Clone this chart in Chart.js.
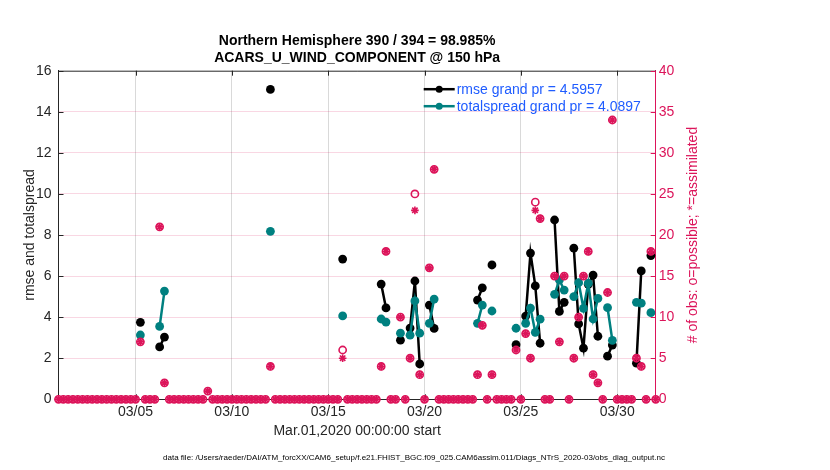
<!DOCTYPE html>
<html>
<head>
<meta charset="utf-8">
<script src="https://cdn.jsdelivr.net/npm/chart.js@4.4.1/dist/chart.umd.min.js"></script>
<style>
  html, body { margin: 0; padding: 0; background: #fff; }
  #wrap { width: 830px; height: 470px; position: relative; }
</style>
</head>
<body>
<div id="wrap"><canvas id="obsChart"></canvas></div>
<script>
const N = null;

// 6-hourly bins, Mar 1 00Z .. Apr 1 00Z
const binCount = 125;
const binLabels = Array.from({length: binCount}, (_, i) => {
    const d = new Date(Date.UTC(2020, 2, 1) + i * 6 * 3600 * 1000);
    const mm = String(d.getUTCMonth() + 1).padStart(2, '0');
    const dd = String(d.getUTCDate()).padStart(2, '0');
    const hh = String(d.getUTCHours()).padStart(2, '0');
    return mm + '/' + dd + ' ' + hh;
});
const tickLabels = ['03/05', '03/10', '03/15', '03/20', '03/25', '03/30'];

const rmse = [
    N, N, N, N, N, N, N, N, N, N,
    N, N, N, N, N, N, N, 3.75, N, N,
    N, 2.55, 3.03, N, N, N, N, N, N, N,
    N, N, N, N, N, N, N, N, N, N,
    N, N, N, N, 15.09, N, N, N, N, N,
    N, N, N, N, N, N, N, N, N, 6.83,
    N, N, N, N, N, N, N, 5.61, 4.45, N,
    N, 2.88, N, 3.47, 5.76, 1.72, N, 4.59, 3.45, N,
    N, N, N, N, N, N, N, 4.83, 5.43, N,
    6.54, N, N, N, N, 2.66, N, 4.05, 7.12, 5.52,
    2.73, N, N, 8.73, 4.28, 4.72, N, 7.36, 3.67, 2.49,
    5.6, 6.05, 3.07, N, 2.1, 2.64, N, N, N, N,
    1.76, 6.25, N, 7.0, N
];
const totalspread = [
    N, N, N, N, N, N, N, N, N, N,
    N, N, N, N, N, N, N, 3.13, N, N,
    N, 3.55, 5.27, N, N, N, N, N, N, N,
    N, N, N, N, N, N, N, N, N, N,
    N, N, N, N, 8.18, N, N, N, N, N,
    N, N, N, N, N, N, N, N, N, 4.06,
    N, N, N, N, N, N, N, 3.91, 3.76, N,
    N, 3.22, N, 3.12, 4.79, 3.22, N, 3.70, 4.88, N,
    N, N, N, N, N, N, N, 3.70, 4.59, N,
    4.30, N, N, N, N, 3.46, N, 3.70, 4.44, 3.26,
    3.90, N, N, 5.11, 5.81, 5.32, N, 5.0, 5.68, 4.43,
    5.65, 3.91, 4.91, N, 4.46, 2.87, N, N, N, N,
    4.72, 4.68, N, 4.22, N
];
const nPossible = [
    0, 0, 0, 0, 0, 0, 0, 0, 0, 0,
    0, 0, 0, 0, 0, 0, 0, 7, 0, 0,
    0, 21, 2, 0, 0, 0, 0, 0, 0, 0,
    0, 1, 0, 0, 0, 0, 0, 0, 0, 0,
    0, 0, 0, 0, 4, 0, 0, 0, 0, 0,
    0, 0, 0, 0, 0, 0, 0, 0, 0, 6,
    0, 0, 0, 0, 0, 0, 0, 4, 18, 0,
    0, 10, 0, 5, 25, 3, 0, 16, 28, 0,
    0, 0, 0, 0, 0, 0, 0, 3, 9, 0,
    3, 0, 0, 0, 0, 6, 0, 8, 5, 24,
    22, 0, 0, 15, 7, 15, 0, 5, 10, 15,
    18, 3, 2, 0, 13, 34, 0, 0, 0, 0,
    5, 4, 0, 18, 0
];
const nAssimilated = [
    0, 0, 0, 0, 0, 0, 0, 0, 0, 0,
    0, 0, 0, 0, 0, 0, 0, 7, 0, 0,
    0, 21, 2, 0, 0, 0, 0, 0, 0, 0,
    0, 1, 0, 0, 0, 0, 0, 0, 0, 0,
    0, 0, 0, 0, 4, 0, 0, 0, 0, 0,
    0, 0, 0, 0, 0, 0, 0, 0, 0, 5,
    0, 0, 0, 0, 0, 0, 0, 4, 18, 0,
    0, 10, 0, 5, 23, 3, 0, 16, 28, 0,
    0, 0, 0, 0, 0, 0, 0, 3, 9, 0,
    3, 0, 0, 0, 0, 6, 0, 8, 5, 23,
    22, 0, 0, 15, 7, 15, 0, 5, 10, 15,
    18, 3, 2, 0, 13, 34, 0, 0, 0, 0,
    5, 4, 0, 18, 0
];

const titleLines = ['Northern Hemisphere 390 / 394 = 98.985%', 'ACARS_U_WIND_COMPONENT @ 150 hPa'];
const legendLabels = ['rmse grand pr = 4.5957', 'totalspread grand pr = 4.0897'];
const xLabel = 'Mar.01,2020 00:00:00 start';
const yLabel = 'rmse and totalspread';
const y2Label = '# of obs: o=possible; *=assimilated';
const footer = 'data file: /Users/raeder/DAI/ATM_forcXX/CAM6_setup/f.e21.FHIST_BGC.f09_025.CAM6assim.011/Diags_NTrS_2020-03/obs_diag_output.nc';

const FONT = '"Liberation Sans", Arial, Helvetica, sans-serif';
const BLACK = '#000000';
const TEAL = '#008080';
const PINK = '#dc145a';
const BLUE = '#1f5cff';
const AXIS = '#262626';

function isMajor(i) {
    const l = binLabels[i];
    return l.endsWith(' 00') && tickLabels.includes(l.slice(0, 5));
}

// frame on top + inward tick marks (matlab style)
const framePlugin = {
    id: 'frame',
    beforeDatasetsDraw(chart) {
        const {ctx, chartArea: a, scales} = chart;
        ctx.save();
        ctx.lineWidth = 1;
        ctx.strokeStyle = AXIS;
        ctx.beginPath();
        ctx.moveTo(a.left, a.top + 0.5);
        ctx.lineTo(a.right, a.top + 0.5);
        scales.x.ticks.forEach(t => {
            if (!isMajor(t.value)) return;
            const px = Math.round(scales.x.getPixelForValue(t.value)) + 0.5;
            ctx.moveTo(px, a.bottom); ctx.lineTo(px, a.bottom - 5);
            ctx.moveTo(px, a.top); ctx.lineTo(px, a.top + 5);
        });
        scales.y.ticks.forEach(t => {
            const py = Math.round(scales.y.getPixelForValue(t.value)) + 0.5;
            ctx.moveTo(a.left, py); ctx.lineTo(a.left + 5, py);
        });
        ctx.stroke();
        ctx.strokeStyle = PINK;
        ctx.beginPath();
        scales.y2.ticks.forEach(t => {
            const py = Math.round(scales.y2.getPixelForValue(t.value)) + 0.5;
            ctx.moveTo(a.right, py); ctx.lineTo(a.right - 5, py);
        });
        ctx.stroke();
        ctx.restore();
    },
    afterDraw(chart) {
        const {ctx, chartArea: a} = chart;
        const cx = (a.left + a.right) / 2;
        const cy = (a.top + a.bottom) / 2;
        ctx.save();
        // titles
        ctx.fillStyle = BLACK;
        ctx.textAlign = 'center';
        ctx.textBaseline = 'alphabetic';
        ctx.font = 'bold 14px ' + FONT;
        ctx.fillText(titleLines[0], cx, a.top - 26);
        ctx.fillText(titleLines[1], cx, a.top - 9);

        // axis labels
        ctx.font = '14px ' + FONT;
        ctx.fillStyle = AXIS;
        ctx.textBaseline = 'middle';
        ctx.fillText(xLabel, cx, a.bottom + 32);
        ctx.save();
        ctx.translate(30, cy);
        ctx.rotate(-Math.PI / 2);
        ctx.fillText(yLabel, 0, 0);
        ctx.restore();
        ctx.save();
        ctx.fillStyle = PINK;
        ctx.translate(a.right + 37, cy);
        ctx.rotate(-Math.PI / 2);
        ctx.fillText(y2Label, 0, 0);
        ctx.restore();

        // footer
        ctx.font = '8px ' + FONT;
        ctx.fillStyle = BLACK;
        ctx.fillText(footer, 414, chart.height - 12);

        // legend
        const lx = a.right - 232;
        const colors = [BLACK, TEAL];
        ctx.font = '14px ' + FONT;
        ctx.textAlign = 'left';
        legendLabels.forEach((txt, i) => {
            const ly = a.top + 18.5 + i * 17;
            ctx.strokeStyle = colors[i];
            ctx.fillStyle = colors[i];
            ctx.lineWidth = 2.5;
            ctx.beginPath();
            ctx.moveTo(lx, ly); ctx.lineTo(lx + 31, ly);
            ctx.stroke();
            ctx.beginPath();
            ctx.arc(lx + 15.5, ly, 3.5, 0, Math.PI * 2);
            ctx.fill();
            ctx.fillStyle = BLUE;
            ctx.fillText(txt, lx + 33, ly + 1);
        });
        ctx.restore();
    }
};

const ctx = document.getElementById('obsChart').getContext('2d');
const obsChart = new Chart(ctx, {
    type: 'line',
    data: {
        labels: binLabels,
        datasets: [
            {
                label: 'possible',
                data: nPossible,
                yAxisID: 'y2',
                showLine: false,
                pointStyle: 'circle',
                pointRadius: 3.6,
                pointBorderWidth: 1.6,
                pointBorderColor: PINK,
                pointBackgroundColor: 'rgba(0,0,0,0)',
                clip: false,
                order: 0
            },
            {
                label: 'assimilated',
                data: nAssimilated,
                yAxisID: 'y2',
                showLine: false,
                pointStyle: 'star',
                pointRadius: 3.8,
                pointBorderWidth: 1.6,
                pointBorderColor: PINK,
                pointBackgroundColor: PINK,
                clip: false,
                order: 0
            },
            {
                label: 'totalspread',
                data: totalspread,
                yAxisID: 'y',
                borderColor: TEAL,
                backgroundColor: TEAL,
                borderWidth: 2.5,
                pointRadius: 4.4,
                pointBorderWidth: 0,
                pointBackgroundColor: TEAL,
                spanGaps: false,
                tension: 0,
                order: 1
            },
            {
                label: 'rmse',
                data: rmse,
                yAxisID: 'y',
                borderColor: BLACK,
                backgroundColor: BLACK,
                borderWidth: 2.5,
                pointRadius: 4.4,
                pointBorderWidth: 0,
                pointBackgroundColor: BLACK,
                spanGaps: false,
                tension: 0,
                order: 2
            }
        ]
    },
    options: {
        responsive: true,
        maintainAspectRatio: false,
        animation: false,
        layout: { padding: { top: 70.7, left: 0, right: 0, bottom: 0 } },
        plugins: {
            legend: { display: false },
            title: { display: false },
            tooltip: { enabled: false }
        },
        scales: {
            x: {
                type: 'category',
                offset: false,
                afterFit(s) { s.height = 70.7; },
                border: { display: true, color: AXIS, width: 1 },
                grid: {
                    drawTicks: false,
                    color: c => (c.tick && isMajor(c.tick.value)) ? '#d9d9d9' : 'rgba(0,0,0,0)',
                    lineWidth: 1
                },
                ticks: {
                    autoSkip: false,
                    maxRotation: 0,
                    padding: 4,
                    color: AXIS,
                    font: { family: FONT, size: 14 },
                    callback(v) { return isMajor(v) ? binLabels[v].slice(0, 5) : ''; }
                }
            },
            y: {
                position: 'left',
                min: 0,
                max: 16,
                afterFit(s) { s.width = 58.5; },
                border: { display: true, color: AXIS, width: 1 },
                grid: { display: false, drawTicks: false },
                ticks: { stepSize: 2, padding: 7, color: AXIS, font: { family: FONT, size: 14 } }
            },
            y2: {
                position: 'right',
                min: 0,
                max: 40,
                afterFit(s) { s.width = 174.3; },
                border: { display: true, color: PINK, width: 1 },
                grid: {
                    drawTicks: false,
                    color: c => (c.tick && c.tick.value > 0 && c.tick.value < 40) ? 'rgba(220,20,90,0.17)' : 'rgba(0,0,0,0)'
                },
                ticks: { stepSize: 5, padding: 3, color: PINK, font: { family: FONT, size: 14 } }
            }
        }
    },
    plugins: [framePlugin]
});
</script>
</body>
</html>
